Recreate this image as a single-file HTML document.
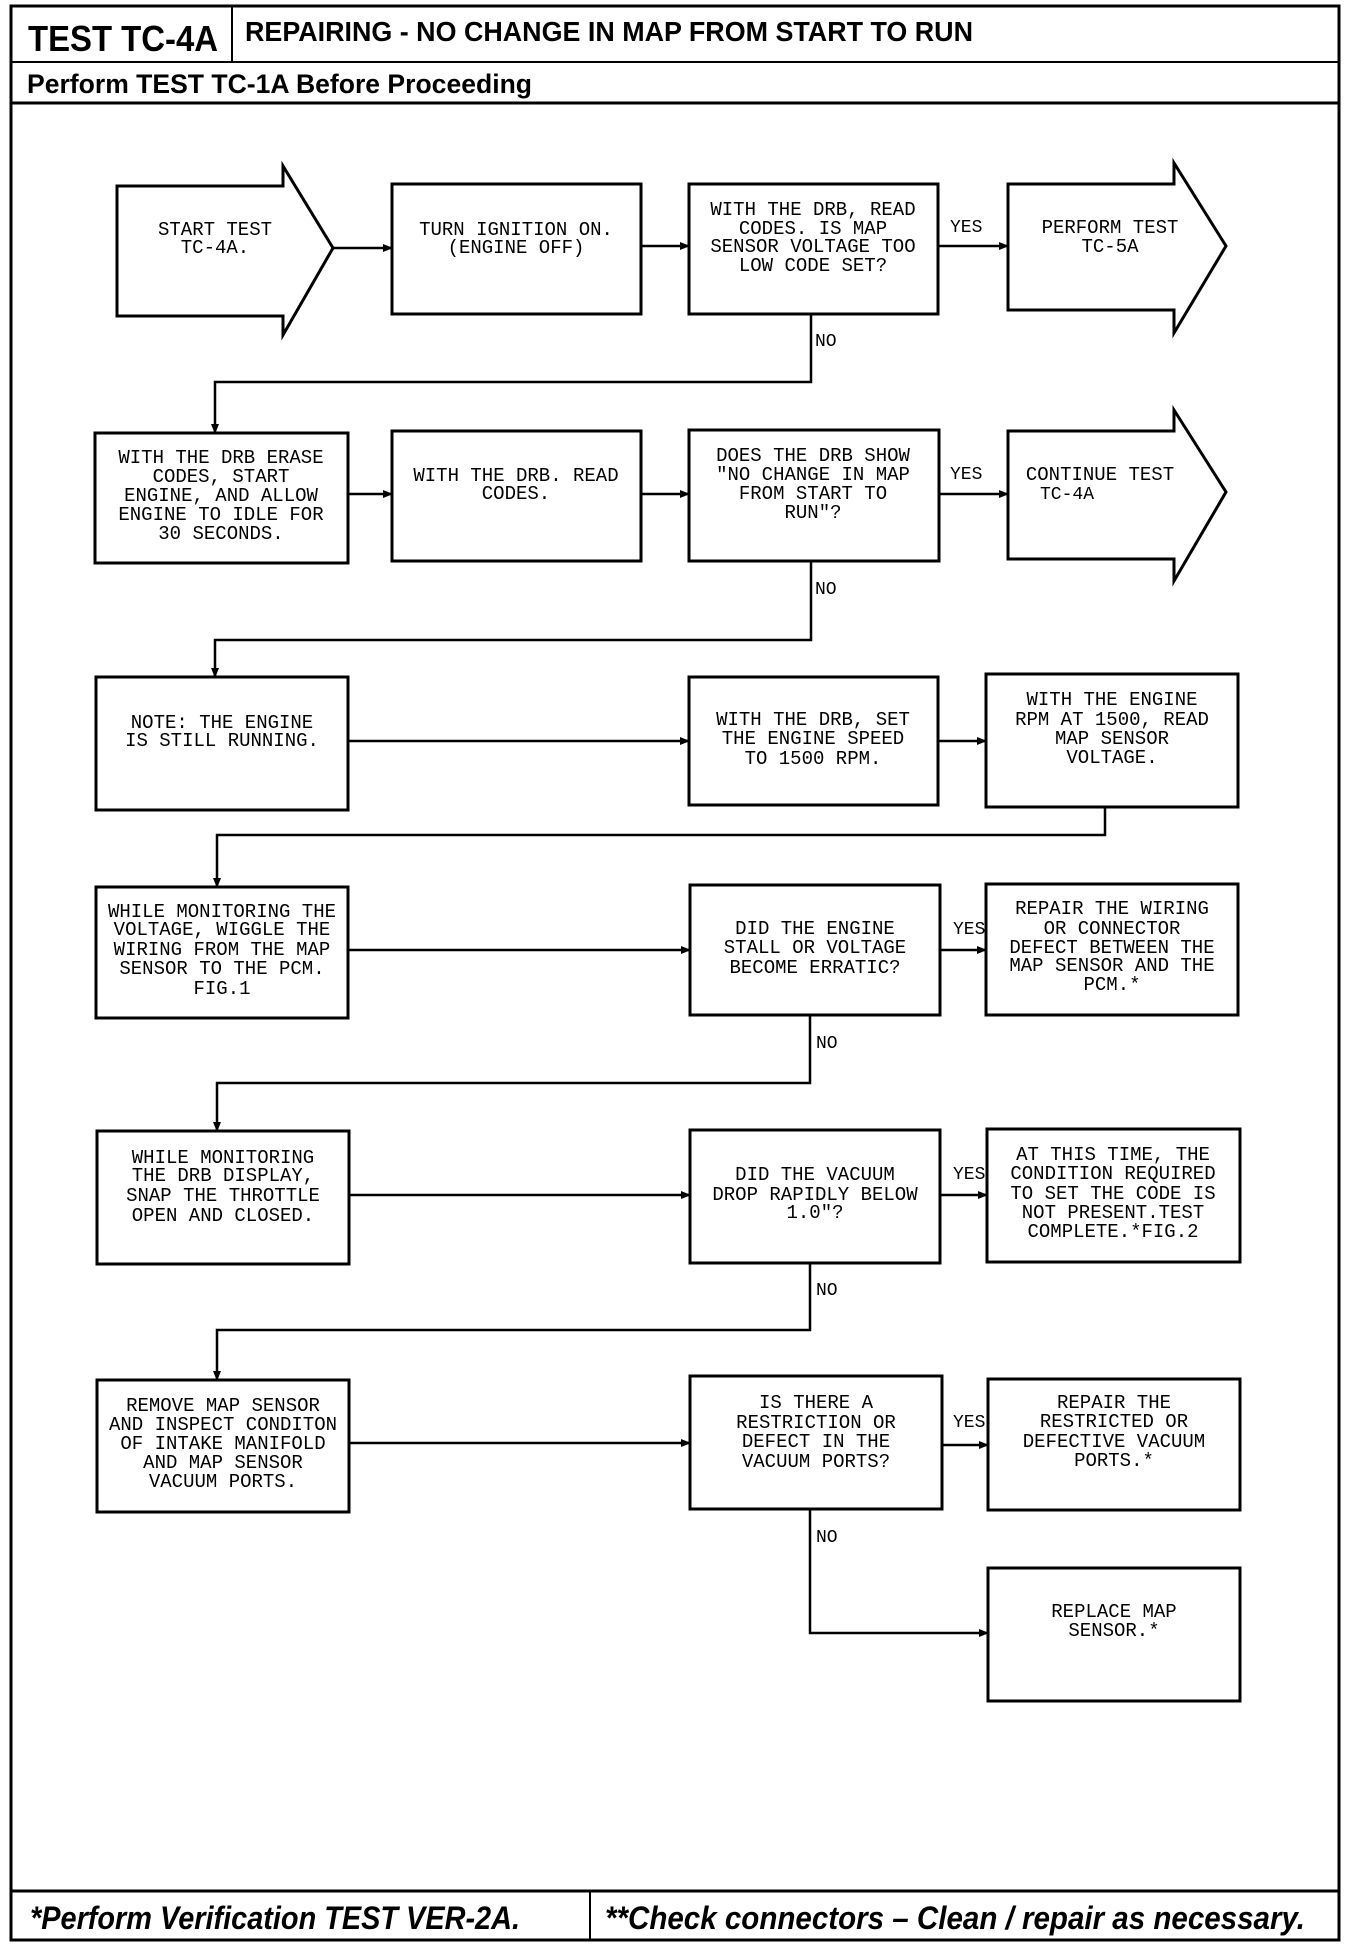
<!DOCTYPE html>
<html><head><meta charset="utf-8"><style>
html,body{margin:0;padding:0;background:#fff;}
svg{display:block;}
.bx{fill:none;stroke:#000;stroke-width:3;}
.ln{fill:none;stroke:#000;stroke-width:2.5;}
.t{font-family:"Liberation Mono",monospace;font-size:19px;fill:#000;text-anchor:middle;dominant-baseline:middle;}
.lb{font-family:"Liberation Mono",monospace;font-size:18px;fill:#000;dominant-baseline:middle;}
.h{font-family:"Liberation Sans",sans-serif;font-weight:bold;fill:#000;}
.f{font-family:"Liberation Sans",sans-serif;font-weight:bold;font-style:italic;font-size:32px;fill:#000;}
</style></head><body>
<svg width="1360" height="1950" viewBox="0 0 1360 1950" xmlns="http://www.w3.org/2000/svg">
<defs><marker id="a" markerWidth="10" markerHeight="10" refX="9" refY="5" orient="auto" markerUnits="userSpaceOnUse"><path d="M0,1 L10,5 L0,9 z" fill="#000"/></marker></defs>
<!-- frame -->
<rect x="11" y="6" width="1328" height="1934" fill="none" stroke="#000" stroke-width="3"/>
<rect x="11" y="6" width="221" height="56" fill="none" stroke="#000" stroke-width="2"/>
<line x1="11" y1="62" x2="1339" y2="62" stroke="#000" stroke-width="2"/>
<line x1="11" y1="103" x2="1339" y2="103" stroke="#000" stroke-width="3"/>
<text class="h" x="28" y="51" font-size="36" textLength="190" lengthAdjust="spacingAndGlyphs">TEST TC-4A</text>
<text class="h" x="245" y="41" font-size="28" textLength="728" lengthAdjust="spacingAndGlyphs">REPAIRING - NO CHANGE IN MAP FROM START TO RUN</text>
<text class="h" x="27" y="93" font-size="27" textLength="505" lengthAdjust="spacingAndGlyphs">Perform TEST TC-1A Before Proceeding</text>
<line x1="11" y1="1891" x2="1339" y2="1891" stroke="#000" stroke-width="3"/>
<line x1="590" y1="1891" x2="590" y2="1940" stroke="#000" stroke-width="2"/>
<text class="f" x="30" y="1929" textLength="490" lengthAdjust="spacingAndGlyphs">*Perform Verification TEST VER-2A.</text>
<text class="f" x="605" y="1929" textLength="700" lengthAdjust="spacingAndGlyphs">**Check connectors – Clean / repair as necessary.</text>

<!-- row1 -->
<path class="bx" d="M117,186 H283 V166 L333,248 L283,335 V316 H117 Z"/>
<text class="t" x="215" y="230">START TEST</text><text class="t" x="215" y="248">TC-4A.</text>
<rect class="bx" x="392" y="184" width="249" height="130"/>
<text class="t" x="516" y="230">TURN IGNITION ON.</text><text class="t" x="516" y="248">(ENGINE OFF)</text>
<rect class="bx" x="689" y="184" width="249" height="130"/>
<text class="t" x="813" y="210">WITH THE DRB, READ</text><text class="t" x="813" y="229">CODES. IS MAP</text><text class="t" x="813" y="247">SENSOR VOLTAGE TOO</text><text class="t" x="813" y="266">LOW CODE SET?</text>
<path class="bx" d="M1008,184 H1174 V163 L1226,246 L1174,333 V310 H1008 Z"/>
<text class="t" x="1110" y="228">PERFORM TEST</text><text class="t" x="1110" y="247">TC-5A</text>
<line class="ln" x1="333" y1="248" x2="392" y2="248" marker-end="url(#a)"/>
<line class="ln" x1="641" y1="246" x2="689" y2="246" marker-end="url(#a)" stroke-width="4"/>
<line class="ln" x1="938" y1="246" x2="1008" y2="246" marker-end="url(#a)"/>
<text class="lb" x="950" y="227">YES</text>
<path class="ln" d="M811,314 V382 H215 V433" marker-end="url(#a)" stroke-width="3"/>
<text class="lb" x="815" y="341">NO</text>

<!-- row2 -->
<rect class="bx" x="95" y="433" width="253" height="130"/>
<text class="t" x="221" y="458">WITH THE DRB ERASE</text><text class="t" x="221" y="477">CODES, START</text><text class="t" x="221" y="496">ENGINE, AND ALLOW</text><text class="t" x="221" y="515">ENGINE TO IDLE FOR</text><text class="t" x="221" y="534">30 SECONDS.</text>
<rect class="bx" x="392" y="431" width="249" height="130"/>
<text class="t" x="516" y="476">WITH THE DRB. READ</text><text class="t" x="516" y="494">CODES.</text>
<rect class="bx" x="689" y="430" width="250" height="131"/>
<text class="t" x="813" y="456">DOES THE DRB SHOW</text><text class="t" x="813" y="475">"NO CHANGE IN MAP</text><text class="t" x="813" y="494">FROM START TO</text><text class="t" x="813" y="513">RUN"?</text>
<path class="bx" d="M1008,431 H1174 V410 L1226,492 L1174,581 V559 H1008 Z"/>
<text class="t" x="1100" y="475">CONTINUE TEST</text><text class="lb" x="1040" y="494">TC-4A</text>
<line class="ln" x1="348" y1="494" x2="392" y2="494" marker-end="url(#a)"/>
<line class="ln" x1="641" y1="494" x2="689" y2="494" marker-end="url(#a)" stroke-width="4"/>
<line class="ln" x1="939" y1="494" x2="1008" y2="494" marker-end="url(#a)"/>
<text class="lb" x="950" y="474">YES</text>
<path class="ln" d="M811,561 V640 H215 V677" marker-end="url(#a)" stroke-width="3"/>
<text class="lb" x="815" y="589">NO</text>

<!-- row3 -->
<rect class="bx" x="96" y="677" width="252" height="133"/>
<text class="t" x="222" y="723">NOTE: THE ENGINE</text><text class="t" x="222" y="741">IS STILL RUNNING.</text>
<rect class="bx" x="689" y="677" width="249" height="128"/>
<text class="t" x="813" y="720">WITH THE DRB, SET</text><text class="t" x="813" y="739">THE ENGINE SPEED</text><text class="t" x="813" y="759">TO 1500 RPM.</text>
<rect class="bx" x="986" y="674" width="252" height="133"/>
<text class="t" x="1112" y="700">WITH THE ENGINE</text><text class="t" x="1112" y="720">RPM AT 1500, READ</text><text class="t" x="1112" y="739">MAP SENSOR</text><text class="t" x="1112" y="758">VOLTAGE.</text>
<line class="ln" x1="348" y1="741" x2="689" y2="741" marker-end="url(#a)" stroke-width="3"/>
<line class="ln" x1="938" y1="741" x2="986" y2="741" marker-end="url(#a)"/>
<path class="ln" d="M1105,807 V835 H217 V887" marker-end="url(#a)" stroke-width="3"/>

<!-- row4 -->
<rect class="bx" x="96" y="887" width="252" height="131"/>
<text class="t" x="222" y="912">WHILE MONITORING THE</text><text class="t" x="222" y="930">VOLTAGE, WIGGLE THE</text><text class="t" x="222" y="950">WIRING FROM THE MAP</text><text class="t" x="222" y="969">SENSOR TO THE PCM.</text><text class="t" x="222" y="989">FIG.1</text>
<rect class="bx" x="690" y="885" width="250" height="130"/>
<text class="t" x="815" y="929">DID THE ENGINE</text><text class="t" x="815" y="948">STALL OR VOLTAGE</text><text class="t" x="815" y="968">BECOME ERRATIC?</text>
<rect class="bx" x="986" y="884" width="252" height="131"/>
<text class="t" x="1112" y="909">REPAIR THE WIRING</text><text class="t" x="1112" y="929">OR CONNECTOR</text><text class="t" x="1112" y="948">DEFECT BETWEEN THE</text><text class="t" x="1112" y="966">MAP SENSOR AND THE</text><text class="t" x="1112" y="985">PCM.*</text>
<line class="ln" x1="348" y1="950" x2="690" y2="950" marker-end="url(#a)" stroke-width="3"/>
<line class="ln" x1="940" y1="950" x2="986" y2="950" marker-end="url(#a)" stroke-width="4"/>
<text class="lb" x="953" y="929">YES</text>
<path class="ln" d="M810,1015 V1083 H217 V1131" marker-end="url(#a)" stroke-width="3"/>
<text class="lb" x="816" y="1043">NO</text>

<!-- row5 -->
<rect class="bx" x="97" y="1131" width="252" height="133"/>
<text class="t" x="223" y="1158">WHILE MONITORING</text><text class="t" x="223" y="1176">THE DRB DISPLAY,</text><text class="t" x="223" y="1196">SNAP THE THROTTLE</text><text class="t" x="223" y="1216">OPEN AND CLOSED.</text>
<rect class="bx" x="690" y="1130" width="250" height="133"/>
<text class="t" x="815" y="1175">DID THE VACUUM</text><text class="t" x="815" y="1195">DROP RAPIDLY BELOW</text><text class="t" x="815" y="1213">1.0"?</text>
<rect class="bx" x="987" y="1129" width="253" height="133"/>
<text class="t" x="1113" y="1155">AT THIS TIME, THE</text><text class="t" x="1113" y="1174">CONDITION REQUIRED</text><text class="t" x="1113" y="1194">TO SET THE CODE IS</text><text class="t" x="1113" y="1213">NOT PRESENT.TEST</text><text class="t" x="1113" y="1232">COMPLETE.*FIG.2</text>
<line class="ln" x1="349" y1="1195" x2="690" y2="1195" marker-end="url(#a)" stroke-width="3"/>
<line class="ln" x1="940" y1="1195" x2="987" y2="1195" marker-end="url(#a)"/>
<text class="lb" x="953" y="1174">YES</text>
<path class="ln" d="M810,1263 V1330 H217 V1380" marker-end="url(#a)" stroke-width="3"/>
<text class="lb" x="816" y="1290">NO</text>

<!-- row6 -->
<rect class="bx" x="97" y="1380" width="252" height="132"/>
<text class="t" x="223" y="1406">REMOVE MAP SENSOR</text><text class="t" x="223" y="1425">AND INSPECT CONDITON</text><text class="t" x="223" y="1444">OF INTAKE MANIFOLD</text><text class="t" x="223" y="1463">AND MAP SENSOR</text><text class="t" x="223" y="1482">VACUUM PORTS.</text>
<rect class="bx" x="690" y="1376" width="252" height="133"/>
<text class="t" x="816" y="1403">IS THERE A</text><text class="t" x="816" y="1423">RESTRICTION OR</text><text class="t" x="816" y="1442">DEFECT IN THE</text><text class="t" x="816" y="1462">VACUUM PORTS?</text>
<rect class="bx" x="988" y="1379" width="252" height="131"/>
<text class="t" x="1114" y="1403">REPAIR THE</text><text class="t" x="1114" y="1422">RESTRICTED OR</text><text class="t" x="1114" y="1442">DEFECTIVE VACUUM</text><text class="t" x="1114" y="1461">PORTS.*</text>
<line class="ln" x1="349" y1="1443" x2="690" y2="1443" marker-end="url(#a)" stroke-width="4"/>
<line class="ln" x1="942" y1="1445" x2="988" y2="1445" marker-end="url(#a)"/>
<text class="lb" x="953" y="1422">YES</text>
<path class="ln" d="M810,1509 V1633 H988" marker-end="url(#a)"/>
<text class="lb" x="816" y="1537">NO</text>

<!-- row7 -->
<rect class="bx" x="988" y="1568" width="252" height="133"/>
<text class="t" x="1114" y="1612">REPLACE MAP</text><text class="t" x="1114" y="1631">SENSOR.*</text>
</svg>
</body></html>
